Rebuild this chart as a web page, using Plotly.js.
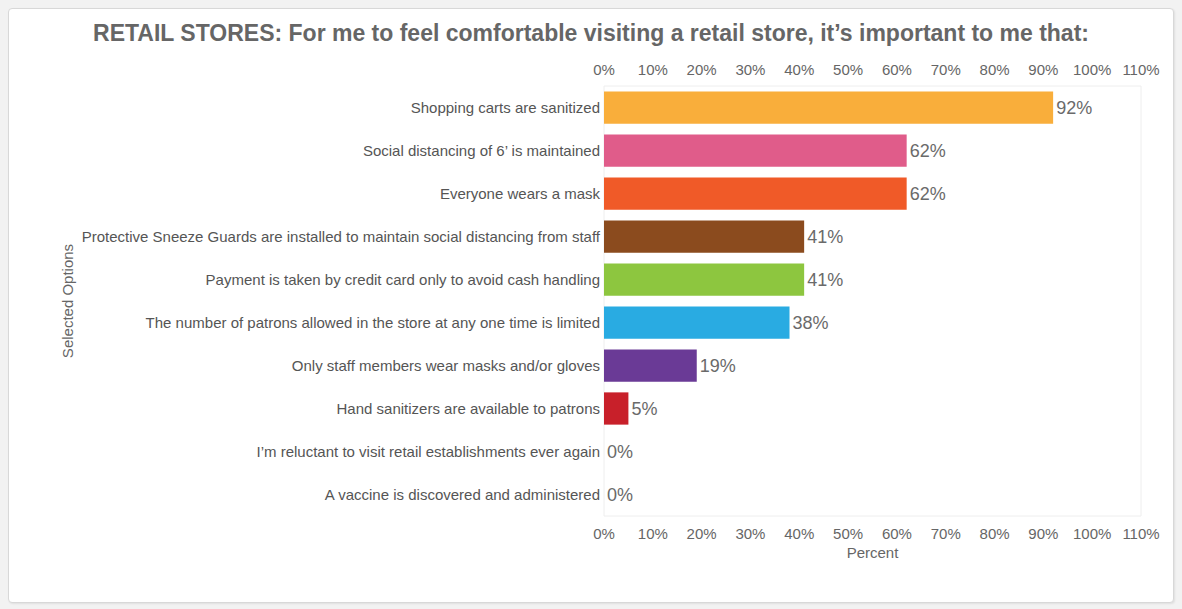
<!DOCTYPE html>
<html>
<head>
<meta charset="utf-8">
<script src="https://cdn.plot.ly/plotly-3.0.1.min.js"></script>
<style>
  html, body { margin: 0; padding: 0; background: #f2f2f2; width: 1182px; height: 609px; overflow: hidden; }
  #frame { position: absolute; left: 8px; top: 8px; width: 1164px; height: 593px; background: #ffffff;
           border: 1px solid #d8d8d8; border-radius: 4px; box-shadow: 1px 1px 2px rgba(0,0,0,0.08); }
  #chart { position: absolute; left: 0; top: 0; width: 1182px; height: 609px; }
</style>
</head>
<body>
<div id="frame"></div>
<div id="chart"></div>
<script>
const categories = [
  "Shopping carts are sanitized",
  "Social distancing of 6’ is maintained",
  "Everyone wears a mask",
  "Protective Sneeze Guards are installed to maintain social distancing from staff",
  "Payment is taken by credit card only to avoid cash handling",
  "The number of patrons allowed in the store at any one time is limited",
  "Only staff members wear masks and/or gloves",
  "Hand sanitizers are available to patrons",
  "I’m reluctant to visit retail establishments ever again",
  "A vaccine is discovered and administered"
];
const percents = [92, 62, 62, 41, 41, 38, 19, 5, 0, 0];
const barColors = ["#F9AE3B", "#E05C8A", "#F05A28", "#8B4B1E", "#8DC63F", "#29ABE2", "#6A3A96", "#C8202A", "#888888", "#888888"];
const tickVals = [0, 10, 20, 30, 40, 50, 60, 70, 80, 90, 100, 110];
const tickText = tickVals.map(v => v + "%");

const fontFam = "Liberation Sans, Arial, sans-serif";

const main = {
  type: "bar",
  orientation: "h",
  x: percents,
  y: categories,
  marker: { color: barColors },
  text: percents.map(v => v + "%"),
  textposition: "outside",
  cliponaxis: false,
  textfont: { family: fontFam, size: 18, color: "#6a6a6a" },
  hoverinfo: "x+y",
  xaxis: "x",
  yaxis: "y"
};
const ghost = {
  type: "bar",
  orientation: "h",
  x: percents,
  y: categories,
  marker: { color: "rgba(0,0,0,0)" },
  hoverinfo: "skip",
  showlegend: false,
  xaxis: "x2",
  yaxis: "y"
};

const axisCommon = {
  range: [0, 110],
  tickvals: tickVals,
  ticktext: tickText,
  showgrid: false,
  zeroline: false,
  showline: false,
  ticks: "",
  ticklabelstandoff: 7,
  tickfont: { family: fontFam, size: 15, color: "#666666" },
  fixedrange: true
};

const layout = {
  width: 1182,
  height: 609,
  paper_bgcolor: "rgba(0,0,0,0)",
  plot_bgcolor: "#ffffff",
  showlegend: false,
  bargap: 0.25,
  margin: { l: 604, r: 41, t: 86, b: 93 },
  title: {
    text: "RETAIL STORES: For me to feel comfortable visiting a retail store, it’s important to me that:",
    font: { family: fontFam, size: 23, color: "#666666", weight: "bold" },
    x: 0.5, xanchor: "center", xref: "container",
    y: 1 - 33 / 609, yref: "container", yanchor: "middle"
  },
  xaxis: Object.assign({}, axisCommon, {
    side: "bottom",
    title: { text: "Percent", font: { family: fontFam, size: 15, color: "#666666" }, standoff: 6 }
  }),
  xaxis2: Object.assign({}, axisCommon, {
    side: "top",
    overlaying: "x",
    anchor: "y"
  }),
  yaxis: {
    autorange: "reversed",
    showgrid: false,
    zeroline: false,
    showline: false,
    ticks: "",
    ticklabelstandoff: 3,
    tickfont: { family: fontFam, size: 15, color: "#555555" },
    title: { text: "Selected Options", font: { family: fontFam, size: 15, color: "#666666" }, standoff: 4 },
    fixedrange: true
  },
  shapes: [{
    type: "rect", xref: "paper", yref: "paper", x0: 0, x1: 1, y0: 0, y1: 1,
    line: { color: "#eeeeee", width: 1 }, layer: "below"
  }]
};

Plotly.newPlot("chart", [main, ghost], layout, { displayModeBar: false, staticPlot: true });
</script>
</body>
</html>
